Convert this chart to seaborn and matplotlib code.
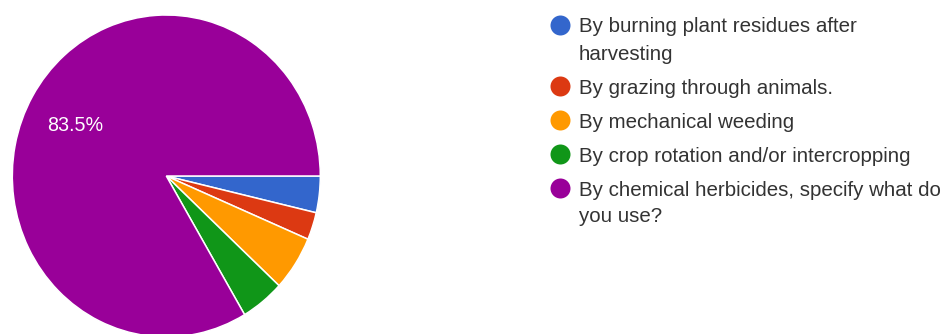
import matplotlib
matplotlib.use("Agg")
import matplotlib.pyplot as plt
import seaborn as sns

# Survey responses: weed control methods
categories = [
    "By burning plant residues after\nharvesting",
    "By grazing through animals.",
    "By mechanical weeding",
    "By crop rotation and/or intercropping",
    "By chemical herbicides, specify what do\nyou use?",
]
counts = [4, 3, 6, 5, 91]
colors = ["#3366cc", "#dc3912", "#ff9900", "#109618", "#990099"]

sns.set_theme(style="white")
plt.rcParams["font.family"] = ["Liberation Sans", "DejaVu Sans"]

W, H, DPI = 946, 334, 100
fig = plt.figure(figsize=(W / DPI, H / DPI), dpi=DPI)
fig.patch.set_facecolor("white")

# Pie axes placed in pixel units (slightly taller than wide)
cx, cy = 166.3, H - 176
rx, ry = 154, 161
ax = fig.add_axes([(cx - rx) / W, (cy - ry) / H, 2 * rx / W, 2 * ry / H])

palette = sns.color_palette(colors)


def pct_label(p):
    return f"{p:.1f}%" if p >= 10 else ""


wedges, texts, autotexts = ax.pie(
    counts,
    colors=palette,
    startangle=0,
    counterclock=False,
    autopct=pct_label,
    pctdistance=0.68,
    wedgeprops=dict(edgecolor="white", linewidth=1.1),
    textprops=dict(color="white", fontsize=14.2),
)
# nudge the percentage labels so the digits sit centred on their anchor
for t in autotexts:
    x0, y0 = t.get_position()
    t.set_position((x0, y0 - 0.022))
ax.set_aspect("auto")
ax.set_xlim(-1, 1)
ax.set_ylim(-1, 1)
ax.axis("off")

# Legend drawn in a full-figure overlay using pixel coordinates
lg = fig.add_axes([0, 0, 1, 1])
lg.set_xlim(0, W)
lg.set_ylim(H, 0)
lg.axis("off")

marker_x, text_x = 560, 579
y = 25.0
entry_gap, line_gap = 34, 27
cap_half = 7.5
for label, col in zip(categories, palette):
    lg.plot(marker_x, y, marker="o", markersize=14.4, color=col,
            markeredgewidth=0, linestyle="none")
    lines = label.split("\n")
    for k, line in enumerate(lines):
        lg.text(text_x, y + cap_half + k * line_gap, line, fontsize=14.8,
                color="#333333", va="baseline", ha="left")
    y += entry_gap + line_gap * (len(lines) - 1)

fig.savefig("out.png", dpi=DPI, facecolor="white")
